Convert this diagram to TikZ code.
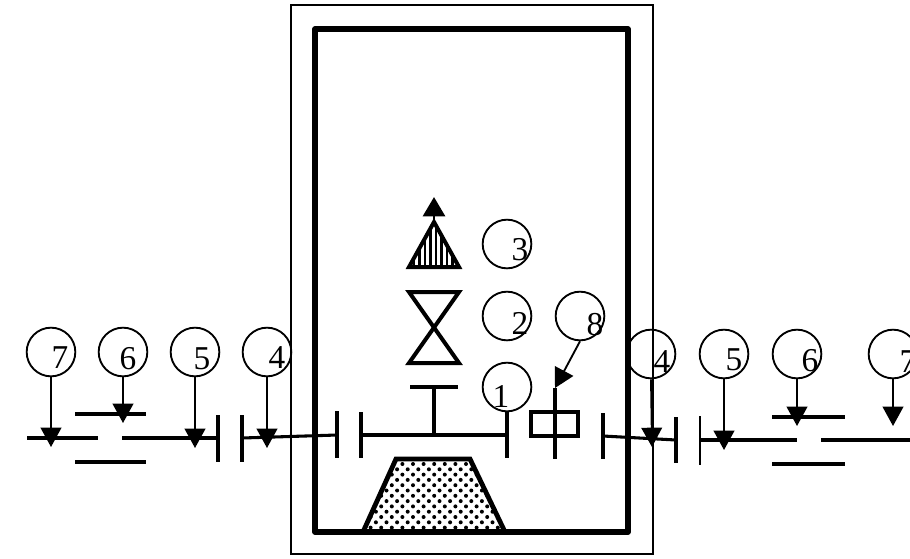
\documentclass[tikz,border=0pt]{standalone}
\usepackage{fontspec}
\setmainfont{Liberation Serif}
\usetikzlibrary{arrows.meta}
\tikzset{
  ring/.style={circle,draw,line width=1.4pt,minimum size=36.5pt,inner sep=0pt},
  digit/.style={inner sep=0pt,font=\fontsize{25pt}{25pt}\selectfont},
  ptr/.style={line width=1.4pt,-{Triangle[length=14.5pt,width=15.5pt]}},
  outerwall/.style={line width=1.7pt,line join=miter},
  innerwall/.style={line width=4pt,line join=round},
  plate/.style={line width=3pt},
  thinplate/.style={line width=2pt},
  wire/.style={line width=2.3pt},
  symb/.style={line width=3pt,line join=miter},
}
\begin{document}
\begin{tikzpicture}[x=0.75pt,y=-0.75pt]
\clip (0,0) rectangle (910,558);
% vessel
\draw[outerwall] (291,5) rectangle (653,554);
\draw[innerwall] (315,29) rectangle (628,532);
% target
\begin{scope}
  \clip (396,459) -- (470,459) -- (505,532) -- (363,532) -- cycle;
  \foreach \r in {0,...,14}{
    \foreach \c in {0,...,14}{
      \pgfmathsetmacro{\dx}{360+\c*10.6+mod(\r,2)*5.3}
      \pgfmathsetmacro{\dy}{464+\r*5.3}
      \fill (\dx,\dy) circle[radius=2];
    }
  }
\end{scope}
\draw[symb,line width=3.6pt] (363,532) -- (396,459) -- (470,459) -- (505,532);
% shutter bar
\coordinate (capL) at (361,435);
\coordinate (capR) at (507,435);
\coordinate (stemTop) at (434,387);
\coordinate (stemBot) at (434,435);
\draw[plate] (361,412) -- (361,458);
\draw[plate] (507,412) -- (507,458);
\draw[wire] (capL) -- (capR);
\draw[plate] (stemBot) -- (stemTop);
\draw[plate] (410,387) -- (458,387);
% hourglass
\draw[symb] (409,292) -- (459,292) -- (409,363) -- (459,363) -- cycle;
% hatched triangle
\begin{scope}
  \clip (434,222) -- (459,267) -- (409,267) -- cycle;
  \foreach \x in {414,419.5,...,458}{
    \draw[line width=2.2pt] (\x,220) -- (\x,270);
  }
\end{scope}
\draw[symb] (434,222) -- (459,267) -- (409,267) -- cycle;
\coordinate (triTop) at (434,222);
\coordinate (triTip) at (434,197);
\draw[line width=2.2pt,-{Triangle[length=14.5pt,width=16.5pt]}] (triTop) -- (triTip);
% sample box with pin
\draw[symb,line width=2.7pt] (531,412) rectangle (578,436);
\coordinate (pinTop) at (555,388);
\coordinate (pinBot) at (555,459);
\draw[plate] (pinTop) -- (pinBot);
% left line
\coordinate (l7a) at (27,438);
\coordinate (l7b) at (98,438);
\coordinate (l5a) at (122,438);
\coordinate (l5b) at (218,438);
\coordinate (l4a) at (242,438);
\coordinate (l4b) at (337,435);
\draw[wire] (l7a) -- (l7b);
\draw[wire] (l5a) -- (l5b);
\draw[wire] (l4a) -- (l4b);
\draw[plate] (218,415) -- (218,462);
\draw[plate] (242,415) -- (242,462);
\draw[plate] (337,411) -- (337,458);
\draw[wire] (75,414) -- (146,414);
\draw[wire] (75,462) -- (146,462);
% right line
\coordinate (r4a) at (603,436);
\coordinate (r4b) at (676,440);
\coordinate (r5a) at (700,440);
\coordinate (r5b) at (797,440);
\coordinate (r7a) at (821,440);
\coordinate (r7b) at (910,440);
\draw[wire] (r4a) -- (r4b);
\draw[wire] (r5a) -- (r5b);
\draw[wire] (r7a) -- (r7b);
\draw[plate] (603,413) -- (603,459);
\draw[plate] (676,417) -- (676,463);
\draw[thinplate] (700,416) -- (700,465);
\draw[wire] (772,417) -- (845,417);
\draw[wire] (772,464) -- (845,464);
% circles
\node[ring] (c1) at (507,387) {};
\node[ring] (c2) at (507,316) {};
\node[ring] (c3) at (507,244) {};
\node[ring] (c8) at (580,316) {};
\node[ring] (cL4) at (267,352) {};
\node[ring] (cL5) at (195,352) {};
\node[ring] (cL6) at (123,352) {};
\node[ring] (cL7) at (51,352) {};
\node[ring] (cR4) at (651,354) {};
\node[ring] (cR5) at (724,354) {};
\node[ring] (cR6) at (797,354) {};
\node[ring] (cR7) at (893,354) {};
% digits
\node[digit] (t1) at (501,396) {1};
\node[digit] (t2) at (520,323) {2};
\node[digit] (t3) at (520,250) {3};
\node[digit] (t8) at (595,325) {8};
\node[digit] (tL4) at (277,358) {4};
\node[digit] (tL5) at (202,359) {5};
\node[digit] (tL6) at (128,359) {6};
\node[digit] (tL7) at (60,358) {7};
\node[digit] (tR4) at (662,362) {4};
\node[digit] (tR5) at (734,360) {5};
\node[digit] (tR6) at (810,361) {6};
\node[digit] (tR7) at (908,362) {7};
% pointers
\coordinate (pL7) at (51,447);
\coordinate (pL6) at (123,423);
\coordinate (pL5) at (195,448);
\coordinate (pL4) at (267,448);
\coordinate (pR4) at (652,447);
\coordinate (pR5) at (724,450);
\coordinate (pR6) at (797,426);
\coordinate (pR7) at (893,426);
\draw[ptr] (cL7.south) -- (pL7);
\draw[ptr] (cL6.south) -- (pL6);
\draw[ptr] (cL5.south) -- (pL5);
\draw[ptr] (cL4.south) -- (pL4);
\draw[ptr] (cR4.south) -- (pR4);
\draw[ptr] (cR5.south) -- (pR5);
\draw[ptr] (cR6.south) -- (pR6);
\draw[ptr] (cR7.south) -- (pR7);
\draw[ptr] (c8.south) -- (pinTop);
\end{tikzpicture}
\end{document}
